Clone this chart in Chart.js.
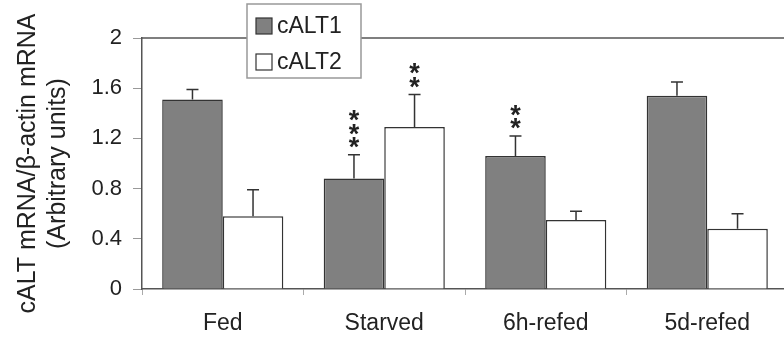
<!DOCTYPE html>
<html><head><meta charset="utf-8">
<script src="https://cdn.jsdelivr.net/npm/chart.js@4/dist/chart.umd.min.js"></script>
<style>html,body{margin:0;padding:0;background:#fff;overflow:hidden;width:784px;height:339px}
#wrap{width:790px;height:339px;position:relative}</style>
</head><body><div id="wrap"><canvas id="c" width="790" height="339"></canvas></div>
<script>
const categories = ['Fed', 'Starved', '6h-refed', '5d-refed'];
const seriesNames = ['cALT1', 'cALT2'];
const calt1 = [1.51, 0.88, 1.06, 1.54];
const calt1Err = [0.08, 0.19, 0.16, 0.11];
const calt2 = [0.58, 1.29, 0.55, 0.48];
const calt2Err = [0.21, 0.26, 0.07, 0.12];
const calt1Sig = ['', '***', '**', ''];
const calt2Sig = ['', '**', '', ''];
const yTicks = [0, 0.4, 0.8, 1.2, 1.6, 2];
const yTickLabels = ['0', '0.4', '0.8', '1.2', '1.6', '2'];
const yTitle = ['cALT mRNA/\u03B2-actin mRNA', '(Arbitrary units)'];

const FONT = 'Liberation Sans, Arial, sans-serif';
const errs = [calt1Err, calt2Err];
const sigs = [calt1Sig, calt2Sig];

const errorBars = {
  id: 'errorBars',
  afterDatasetsDraw(chart) {
    const ctx = chart.ctx, ys = chart.scales.y, ca = chart.chartArea;
    ctx.save();
    ctx.strokeStyle = '#555'; ctx.lineWidth = 1.5;
    ctx.beginPath(); ctx.moveTo(ca.left, ca.top); ctx.lineTo(ca.right, ca.top); ctx.stroke();
    chart.data.datasets.forEach((ds, i) => {
      const meta = chart.getDatasetMeta(i);
      meta.data.forEach((el, j) => {
        const v = ds.data[j], e = errs[i][j];
        const yT = ys.getPixelForValue(v + e);
        ctx.strokeStyle = '#333'; ctx.lineWidth = 1.5;
        ctx.beginPath();
        ctx.moveTo(el.x, el.y); ctx.lineTo(el.x, yT);
        ctx.moveTo(el.x - 6, yT); ctx.lineTo(el.x + 6, yT);
        ctx.stroke();
        const s = sigs[i][j];
        ctx.fillStyle = '#222';
        ctx.font = 'bold 27px ' + FONT;
        ctx.textAlign = 'center'; ctx.textBaseline = 'alphabetic';
        for (let k = 0; k < s.length; k++) {
          const cy = yT - 14 - k * 13.5;
          ctx.fillText(s[k], el.x, cy + 15.5);
        }
      });
    });
    ctx.restore();
  }
};

const boxLegend = {
  id: 'boxLegend',
  afterDraw(chart) {
    const ctx = chart.ctx;
    const x = 247, y = 4, w = 114, h = 74;
    ctx.save();
    ctx.fillStyle = '#fff'; ctx.fillRect(x, y, w, h);
    ctx.strokeStyle = '#999'; ctx.lineWidth = 1.5; ctx.strokeRect(x, y, w, h);
    ctx.font = '23px ' + FONT; ctx.textBaseline = 'middle'; ctx.textAlign = 'left';
    chart.data.datasets.forEach((ds, i) => {
      const cy = 26 + i * 36;
      ctx.fillStyle = ds.backgroundColor; ctx.fillRect(256, cy - 8, 16, 16);
      ctx.strokeStyle = '#333'; ctx.lineWidth = 1.2; ctx.strokeRect(256, cy - 8, 16, 16);
      ctx.fillStyle = '#222'; ctx.fillText(ds.label, 277, cy + 1);
    });
    ctx.restore();
  }
};

new Chart(document.getElementById('c'), {
  type: 'bar',
  data: {
    labels: categories,
    datasets: [
      { label: seriesNames[0], data: calt1, backgroundColor: '#808080', borderColor: '#333', borderWidth: 1.5 },
      { label: seriesNames[1], data: calt2, backgroundColor: '#ffffff', borderColor: '#333', borderWidth: 1.5 }
    ]
  },
  options: {
    responsive: false, animation: false, devicePixelRatio: 1,
    layout: { padding: { top: 38, right: 2, left: 0, bottom: 0 } },
    datasets: { bar: { categoryPercentage: 0.75, barPercentage: 1.0 } },
    plugins: { legend: { display: false }, tooltip: { enabled: false } },
    scales: {
      x: {
        grid: { drawOnChartArea: false, drawTicks: true, tickLength: 6, color: '#aaa', offset: true },
        border: { color: '#555', width: 1.5 },
        ticks: { color: '#222', font: { family: FONT, size: 23 }, padding: 15, maxRotation: 0 },
        afterFit(s) { s.height = 50; }
      },
      y: {
        min: 0, max: 2,
        afterBuildTicks(s) { s.ticks = yTicks.map(v => ({ value: v })); },
        grid: { drawOnChartArea: false, drawTicks: true, tickLength: 9, color: '#999' },
        border: { color: '#555', width: 1.5 },
        ticks: { color: '#222', font: { family: FONT, size: 22 }, padding: 11,
                 callback: (v, i) => yTickLabels[i] },
        title: { display: true, text: yTitle, color: '#222',
                 font: { family: FONT, size: 25, lineHeight: 1.2 }, padding: { top: 13, bottom: 0 } },
        afterFit(s) { s.width = 142; }
      }
    }
  },
  plugins: [errorBars, boxLegend]
});
</script></body></html>
